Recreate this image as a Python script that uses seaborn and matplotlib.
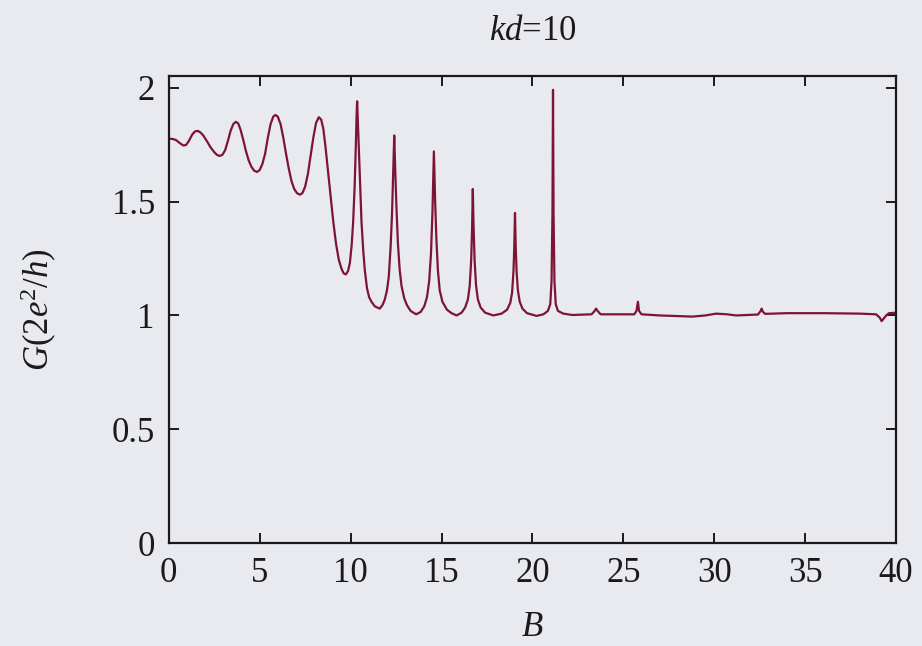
import matplotlib
matplotlib.use("Agg")
import matplotlib.pyplot as plt
import seaborn as sns
import pandas as pd

# Conductance G (units of 2e^2/h) versus magnetic field B, kd = 10
field_B = [
    0.0, 0.2, 0.4, 0.6, 0.8, 0.95, 1.1, 1.3, 1.45, 1.6, 1.75, 1.9, 2.1, 2.3,
    2.5, 2.65, 2.8, 2.95, 3.1, 3.25, 3.4, 3.55, 3.69, 3.82, 3.95, 4.1, 4.25,
    4.4, 4.55, 4.7, 4.86, 5.0, 5.15, 5.3, 5.45, 5.6, 5.75, 5.87, 6.0, 6.15,
    6.3, 6.45, 6.6, 6.75, 6.9, 7.05, 7.21, 7.35, 7.5, 7.65, 7.8, 7.95, 8.1,
    8.25, 8.38, 8.5, 8.62, 8.75, 8.9, 9.05, 9.2, 9.35, 9.5, 9.62, 9.74, 9.86,
    9.96, 10.06, 10.14, 10.22, 10.28, 10.33, 10.36, 10.4, 10.47, 10.54, 10.6,
    10.7, 10.78, 10.9, 11.02, 11.15, 11.33, 11.6, 11.75, 11.88, 12.0, 12.1,
    12.2, 12.28, 12.35, 12.4, 12.45, 12.52, 12.6, 12.7, 12.8, 12.95, 13.1,
    13.3, 13.6, 13.85, 14.05, 14.2, 14.32, 14.42, 14.5, 14.58, 14.65, 14.72,
    14.8, 14.9, 15.05, 15.3, 15.55, 15.83, 16.1, 16.3, 16.45, 16.55, 16.63,
    16.68, 16.72, 16.76, 16.82, 16.9, 17.0, 17.15, 17.4, 17.85, 18.3, 18.6,
    18.78, 18.88, 18.96, 19.0, 19.04, 19.08, 19.13, 19.2, 19.3, 19.45, 19.7,
    20.23, 20.6, 20.85, 20.98, 21.05, 21.1, 21.13, 21.16, 21.21, 21.28, 21.4,
    21.7, 22.2, 23.25, 23.4, 23.5, 23.6, 23.75, 25.6, 25.72, 25.8, 25.86,
    26.0, 27.0, 28.0, 28.8, 29.5, 30.1, 30.7, 31.2, 32.4, 32.55, 32.6, 32.68,
    32.8, 34.0, 36.0, 38.0, 38.9, 39.1, 39.2, 39.3, 39.45, 39.6, 40.0,
]
conductance_G = [
    1.775, 1.775, 1.77, 1.757, 1.746, 1.748, 1.765, 1.795, 1.808, 1.81, 1.803,
    1.79, 1.765, 1.738, 1.717, 1.705, 1.70, 1.705, 1.725, 1.765, 1.81, 1.84,
    1.85, 1.843, 1.815, 1.77, 1.72, 1.68, 1.652, 1.635, 1.63, 1.638, 1.665,
    1.71, 1.78, 1.84, 1.873, 1.88, 1.872, 1.84, 1.78, 1.71, 1.645, 1.59,
    1.555, 1.537, 1.53, 1.537, 1.565, 1.62, 1.70, 1.78, 1.845, 1.87, 1.86,
    1.82, 1.74, 1.64, 1.52, 1.41, 1.315, 1.245, 1.205, 1.185, 1.18, 1.195,
    1.23, 1.31, 1.41, 1.56, 1.72, 1.88, 1.94, 1.85, 1.70, 1.53, 1.41,
    1.28, 1.20, 1.12, 1.08, 1.06, 1.04, 1.03, 1.045, 1.07, 1.11, 1.17,
    1.30, 1.45, 1.65, 1.79, 1.65, 1.48, 1.32, 1.20, 1.13, 1.075, 1.045,
    1.02, 1.005, 1.015, 1.04, 1.08, 1.15, 1.27, 1.45, 1.72, 1.50, 1.33,
    1.20, 1.11, 1.06, 1.025, 1.01, 1.0, 1.012, 1.035, 1.07, 1.13, 1.24,
    1.38, 1.555, 1.40, 1.24, 1.13, 1.07, 1.035, 1.012, 1.0, 1.008, 1.025,
    1.055, 1.10, 1.20, 1.30, 1.45, 1.30, 1.19, 1.11, 1.06, 1.03, 1.01,
    0.998, 1.005, 1.02, 1.05, 1.15, 1.45, 1.99, 1.45, 1.15, 1.05, 1.02,
    1.008, 1.002, 1.005, 1.018, 1.03, 1.018, 1.005, 1.005, 1.02, 1.06, 1.02,
    1.005, 1.0, 0.997, 0.995, 1.0, 1.008, 1.005, 1.0, 1.004, 1.02, 1.03, 1.015,
    1.007, 1.01, 1.01, 1.008, 1.005, 0.99, 0.975, 0.985, 1.0, 1.01, 1.012,
]
x_ticks = [0, 5, 10, 15, 20, 25, 30, 35, 40]
y_ticks = [0, 0.5, 1, 1.5, 2]
y_tick_labels = ["0", "0.5", "1", "1.5", "2"]

df = pd.DataFrame({"B": field_B, "G": conductance_G})

sns.set_theme(style="ticks")
paper = "#e8eaf0"
plt.rcParams.update({
    "font.family": ["Liberation Serif", "DejaVu Serif"],
    "mathtext.fontset": "custom",
    "mathtext.rm": "Liberation Serif",
    "mathtext.it": "Liberation Serif:italic",
    "mathtext.bf": "Liberation Serif:bold",
    "axes.linewidth": 1.6,
    "axes.edgecolor": "#1a1a1a",
})

fig = plt.figure(figsize=(9.22, 6.46), dpi=100, facecolor=paper)
ax = fig.add_axes([0.183, 0.159, 0.789, 0.723], facecolor=paper)

sns.lineplot(data=df, x="B", y="G", ax=ax, color="#7d1434", linewidth=1.6,
             estimator=None, sort=False)

ax.set_xlim(0, 40)
ax.set_ylim(0, 2.05)
ax.set_xticks(x_ticks)
ax.set_xticklabels([str(t) for t in x_ticks])
ax.set_yticks(y_ticks)
ax.set_yticklabels(y_tick_labels)
ax.tick_params(axis="both", which="major", direction="in", length=7, width=1.4,
               top=True, right=True, labelsize=25, colors="#1a1a1a", pad=10)

ax.set_xlabel(r"$B$", fontsize=25, labelpad=15, color="#1a1a1a")
ax.set_ylabel(r"$G(2e^{2}/h)$", fontsize=25, labelpad=38, color="#1a1a1a")
ax.set_title(r"$kd$=10", fontsize=25, pad=26, color="#1a1a1a")

for side in ax.spines.values():
    side.set_visible(True)

fig.savefig("out.png", dpi=100, facecolor=paper)
